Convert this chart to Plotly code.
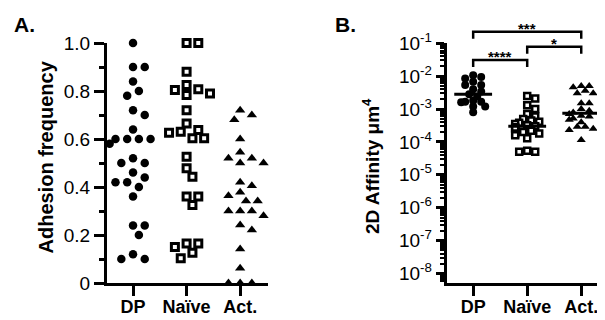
import numpy as np
import plotly.graph_objects as go

categories = ["DP", "Naïve", "Act."]

# Panel A: adhesion frequency
adh_dp = [1.0, 0.9, 0.9, 0.84, 0.8, 0.78, 0.72, 0.7, 0.64, 0.6, 0.6, 0.6, 0.6, 0.58,
          0.52, 0.5, 0.5, 0.46, 0.44, 0.42, 0.42, 0.4, 0.36, 0.24, 0.24, 0.2, 0.12, 0.1, 0.1]
adh_naive = [1.0, 1.0, 0.88, 0.825, 0.807, 0.804, 0.79, 0.783, 0.72, 0.665, 0.638, 0.63,
             0.626, 0.603, 0.603, 0.526, 0.478, 0.443, 0.36, 0.36, 0.325, 0.165, 0.165,
             0.15, 0.126, 0.103]
adh_act = [0.72, 0.70, 0.68, 0.60, 0.545, 0.52, 0.52, 0.50, 0.50, 0.42, 0.405, 0.378,
           0.364, 0.342, 0.342, 0.30, 0.30, 0.30, 0.28, 0.242, 0.221, 0.142, 0.061,
           0.0, 0.0, 0.0]

# Panel B: 2D affinity (um^4)
aff_dp = [1.07e-2, 9.5e-3, 8.5e-3, 6.8e-3, 5.4e-3, 5.4e-3, 4.0e-3, 3.4e-3, 2.8e-3,
          2.4e-3, 1.8e-3, 1.66e-3, 1.66e-3, 1.6e-3, 1.2e-3, 1.2e-3, 8.0e-4]
aff_naive = [2.5e-3, 2.1e-3, 1.3e-3, 1.0e-3, 7.1e-4, 5.9e-4, 5.0e-4, 4.5e-4, 4.1e-4,
             3.8e-4, 3.5e-4, 3.2e-4, 3.0e-4, 2.8e-4, 2.6e-4, 2.5e-4, 2.2e-4, 2.0e-4,
             1.8e-4, 1.8e-4, 1.6e-4, 1.3e-4, 5.4e-5, 5.0e-5, 5.0e-5]
aff_act = [5.0e-3, 5.0e-3, 4.6e-3, 3.6e-3, 3.0e-3, 3.0e-3, 1.5e-3, 1.5e-3, 1.0e-3,
           8.9e-4, 7.8e-4, 7.1e-4, 6.3e-4, 5.9e-4, 5.2e-4, 4.7e-4, 4.0e-4, 2.9e-4,
           2.9e-4, 2.5e-4, 2.3e-4, 1.15e-4]

A_ticks = [0, 0.2, 0.4, 0.6, 0.8, 1.0]
A_ticktext = ["0", "0.2", "0.4", "0.6", "0.8", "1.0"]
B_exps = [-8, -7, -6, -5, -4, -3, -2, -1]

sig_pairs = [(0, 1, "****"), (1, 2, "*"), (0, 2, "***")]

# ---- layout geometry (target window pixels) ----
OFF = 8                      # page body margin
W, H = 605 - OFF, 320 - OFF  # figure size
FONT = "Liberation Sans, Arial, sans-serif"
ax_l, ax_r, ax_t, ax_b = 107, 268, 43, 283
bx_l, bx_r, bx_t, bx_b = 446.7, 605, 43.3, 283.3
A_xrange = [-0.486, 2.52]
B_xrange = [-0.49, 2.44]
B_yrange = [-8.3, -1]

A_pxx = (ax_r - ax_l) / (A_xrange[1] - A_xrange[0])
A_pxy = (ax_b - ax_t) / 1.0
B_pxx = (bx_r - bx_l) / (B_xrange[1] - B_xrange[0])
B_pxy = (bx_b - bx_t) / (B_yrange[1] - B_yrange[0])


def px(xpix):
    return (xpix - OFF) / W


def py(ypix):
    return 1 - (ypix - OFF) / H


def swarm(ypx, step, mind, kmax=5):
    ypx = np.asarray(ypx, float)
    order = np.argsort(-ypx, kind="stable")
    placed = []
    offs = np.zeros(len(ypx))
    ks = [0]
    for k in range(1, kmax + 1):
        ks += [k, -k]
    for i in order:
        x = 0.0
        for k in ks:
            x = k * step
            if all((x - qx) ** 2 + (ypx[i] - qy) ** 2 >= mind ** 2 for qx, qy in placed):
                break
        offs[i] = x
        placed.append((x, ypx[i]))
    return offs


fig = go.Figure()

A_series = [(adh_dp, "circle", 8.5, dict(color="black")),
            (adh_naive, "square", 7, dict(color="white", line=dict(color="black", width=3))),
            (adh_act, "triangle-up", 9, dict(color="black"))]
for ci, (vals, sym, size, mk) in enumerate(A_series):
    v = np.asarray(vals)
    offs = swarm(v * A_pxy, 5.85, 10, kmax=4) / A_pxx
    fig.add_trace(go.Scatter(x=ci + offs, y=v, mode="markers", xaxis="x", yaxis="y",
                             marker=dict(symbol=sym, size=size, **mk),
                             cliponaxis=False, showlegend=False, hoverinfo="y"))

B_series = [(aff_dp, "circle", 8, dict(color="black")),
            (aff_naive, "square", 6, dict(color="white", line=dict(color="black", width=2.5))),
            (aff_act, "triangle-up", 8, dict(color="black"))]
for ci, (vals, sym, size, mk) in enumerate(B_series):
    v = np.asarray(vals)
    offs = swarm(np.log10(v) * B_pxy, 4.0, 5.5, kmax=3) / B_pxx
    fig.add_trace(go.Scatter(x=ci + offs, y=v, mode="markers", xaxis="x2", yaxis="y2",
                             marker=dict(symbol=sym, size=size, **mk),
                             cliponaxis=False, showlegend=False, hoverinfo="y"))
    med = float(np.median(v))
    fig.add_trace(go.Scatter(x=[ci - 0.35, ci + 0.35], y=[med, med], mode="lines",
                             xaxis="x2", yaxis="y2", line=dict(color="black", width=3),
                             showlegend=False, hoverinfo="skip"))

# significance brackets
bracket_y = {(0, 1): 60.0, (1, 2): 46.7, (0, 2): 31.7}
text_y = {(0, 1): 67.0, (1, 2): 54.0, (0, 2): 39.0}
shapes = []
annotations = []
for a, b, label in sig_pairs:
    yb = bracket_y[(a, b)]
    shapes.append(dict(type="path", xref="x2", yref="paper",
                       path=f"M {a},{py(yb + 7)} L {a},{py(yb)} L {b},{py(yb)} L {b},{py(yb + 7)}",
                       line=dict(color="black", width=2.5)))
    annotations.append(dict(x=(a + b) / 2, y=py(text_y[(a, b)]), xref="x2", yref="paper",
                            text=f"<b>{label}</b>", showarrow=False, yanchor="bottom",
                            xanchor="center", font=dict(family=FONT, size=15, color="black")))

annotations += [
    dict(x=px(12), y=py(11), xref="paper", yref="paper", text="<b>A.</b>", showarrow=False,
         xanchor="left", yanchor="top", font=dict(family=FONT, size=21, color="black")),
    dict(x=px(333), y=py(11), xref="paper", yref="paper", text="<b>B.</b>", showarrow=False,
         xanchor="left", yanchor="top", font=dict(family=FONT, size=21, color="black")),
    dict(x=px(45), y=py(157.5), xref="paper", yref="paper", text="<b>Adhesion frequency</b>",
         showarrow=False, textangle=-90, xanchor="center", yanchor="middle",
         font=dict(family=FONT, size=20, color="black")),
    dict(x=px(371), y=py(166), xref="paper", yref="paper", text="<b>2D Affinity μm<sup>4</sup></b>",
         showarrow=False, textangle=-90, xanchor="center", yanchor="middle",
         font=dict(family=FONT, size=19, color="black")),
]

tickfont = dict(family=FONT, size=19, color="black")
xtickfont = dict(family=FONT, size=18, color="black")
axis_common = dict(showline=True, linecolor="black", linewidth=3, ticks="outside",
                   tickcolor="black", tickwidth=3, showgrid=False, zeroline=False,
                   mirror=False, automargin=False)

fig.update_layout(
    template="none",
    width=W, height=H, margin=dict(l=0, r=0, t=0, b=0),
    paper_bgcolor="white", plot_bgcolor="white", showlegend=False,
    xaxis=dict(domain=[px(ax_l), px(ax_r)], range=A_xrange, tickvals=[0, 1, 2],
               ticktext=[f"<b>{c}</b>" for c in categories], ticklen=10,
               ticklabelstandoff=-5,
               tickfont=xtickfont, anchor="y", **axis_common),
    yaxis=dict(domain=[py(ax_b), py(ax_t)], range=[0, 1], tickvals=A_ticks, ticktext=A_ticktext,
               ticklen=10, tickfont=tickfont, anchor="x",
               minor=dict(ticks="outside", dtick=0.1, ticklen=5, tickwidth=2.5, tickcolor="black"),
               **axis_common),
    xaxis2=dict(domain=[px(bx_l), min(1.0, px(bx_r))], range=B_xrange, tickvals=[0, 1, 2],
                ticktext=[f"<b>{c}</b>" for c in categories], ticklen=10,
                ticklabelstandoff=-5,
                tickfont=xtickfont, anchor="y2", **axis_common),
    yaxis2=dict(domain=[py(bx_b), py(bx_t)], type="log", range=B_yrange,
                tickvals=[10.0 ** e for e in B_exps],
                ticktext=[f"10<sup>{e}</sup>" for e in B_exps],
                ticklen=8, tickfont=tickfont, anchor="x2",
                minor=dict(ticks="outside", dtick="D1", ticklen=4, tickwidth=1.5, tickcolor="black"),
                **axis_common),
    shapes=shapes, annotations=annotations,
)

fig.write_html("out.html")
